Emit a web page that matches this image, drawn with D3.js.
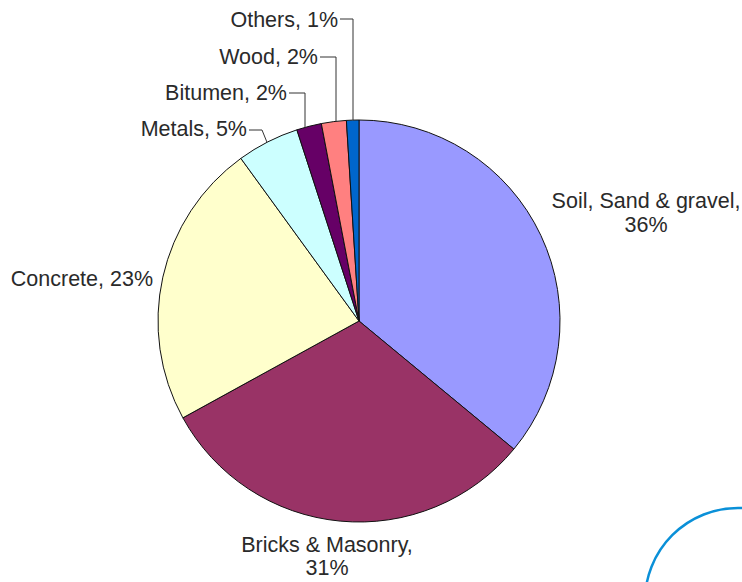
<!DOCTYPE html>
<html><head><meta charset="utf-8">
<script src="https://cdn.jsdelivr.net/npm/d3@7"></script>
<style>body{margin:0;background:#fff}svg{display:block}text{font-family:"Liberation Sans",Arial,sans-serif;fill:#2a2a2a}</style>
</head><body>
<svg id="c" width="742" height="582"></svg>
<script>
const categories = ["Soil, Sand & gravel", "Bricks & Masonry", "Concrete", "Metals", "Bitumen", "Wood", "Others"];
const values = [36, 31, 23, 5, 2, 2, 1];
const colors = ["#9999FF", "#993366", "#FFFFCC", "#CCFFFF", "#660066", "#FF8080", "#0066CC"];

const svg = d3.select("#c");
const cx = 359, cy = 321, r = 201;
const g = svg.append("g").attr("transform", `translate(${cx},${cy})`);
const pie = d3.pie().sort(null).value(d => d)(values);
const arc = d3.arc().innerRadius(0).outerRadius(r);
g.selectAll("path").data(pie).join("path")
  .attr("d", arc).attr("fill", (d, i) => colors[i])
  .attr("stroke", "#111").attr("stroke-width", 1);

const fs = 21.5;
function lbl(x, y, lines, anchor, lh) {
  const t = svg.append("text").attr("x", x).attr("y", y).attr("text-anchor", anchor).attr("font-size", fs);
  lines.forEach((l, i) => t.append("tspan").attr("x", x).attr("dy", i ? (lh || 24) : 0).text(l));
}
lbl(646, 208, [categories[0] + ",", values[0] + "%"], "middle");
lbl(327, 552, [categories[1] + ",", values[1] + "%"], "middle", 23);
lbl(153, 286, [categories[2] + ", " + values[2] + "%"], "end");

// Small slices with leader lines
const small = [
  {i: 3, tx: 247, ty: 136, ly: 130, lx: 262, ex: 267},
  {i: 4, tx: 287, ty: 100, ly: 93, lx: 305, ex: 305},
  {i: 5, tx: 318, ty: 64, ly: 57, lx: 336, ex: 336},
  {i: 6, tx: 338, ty: 27, ly: 19, lx: 353, ex: 353}
];
small.forEach(s => {
  const ey = cy - Math.sqrt(r * r - (s.ex - cx) * (s.ex - cx));
  lbl(s.tx, s.ty, [categories[s.i] + ", " + values[s.i] + "%"], "end");
  svg.append("path")
    .attr("d", `M${s.tx + 2},${s.ly}H${s.lx}L${s.ex},${ey}`)
    .attr("fill", "none").attr("stroke", "#333").attr("stroke-width", 1);
});

// decorative blue arc
svg.append("circle").attr("cx", 738).attr("cy", 601).attr("r", 93)
  .attr("fill", "none").attr("stroke", "#0a90d8").attr("stroke-width", 2.5);
</script>
</body></html>
